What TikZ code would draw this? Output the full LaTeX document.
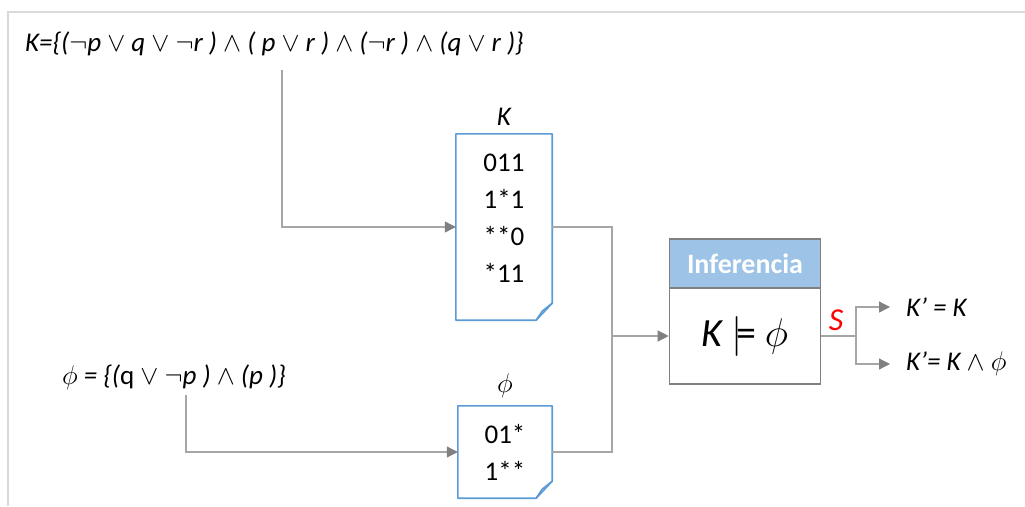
\RequirePackage{fix-cm}
\documentclass[tikz,border=0pt]{standalone}
\usepackage{amsmath}
\usepackage{amssymb}
\usepackage{fontspec}
\setmainfont{Carlito}
\usetikzlibrary{positioning,arrows.meta}
\definecolor{trait}{HTML}{A6A6A6}
\definecolor{pointe}{HTML}{808080}
\definecolor{bleu}{HTML}{5B9BD5}
\definecolor{entete}{HTML}{9DC3E6}
\tikzset{
  lien/.style={draw=trait,line width=1.2pt},
  fleche/.style={lien,-{Triangle[length=11pt,width=11pt,color=pointe]}},
  feuille/.style={draw=bleu,line width=1.6pt,line join=round},
  txt/.style={inner sep=0pt,font=\fontsize{27}{32}\selectfont\itshape},
  chiffres/.style={align=center,font=\fontsize{27}{37}\selectfont},
  sortie/.style={txt,anchor=west,inner xsep=16pt}
}
\begin{document}
\begin{tikzpicture}[x=1pt,y=-1pt]
\useasboundingbox (0,0) rectangle (1025,506);
% cadre
\draw[black!15,line width=1.5pt] (8,506) -- (8,12) -- (1025,12);
% formules
\node[txt,anchor=west] (fk) at (25,44) {K=\{($\neg$p $\vee$ q $\vee$ $\neg$r ) $\wedge$ ( p $\vee$ r ) $\wedge$ ($\neg$r ) $\wedge$ (q $\vee$ r )\}};
\node[txt,anchor=west] (fphi) at (62,377) {$\phi$ = \{(\upshape q $\vee$ $\neg$\itshape p ) $\wedge$ (p )\}};
% base K
\node[minimum width=96pt,minimum height=186pt,inner sep=0pt] (k) at (504,227) {};
\node[chiffres] (kt) at ([yshift=9pt]k.center) {011\\1*1\\**0\\*11};
\node[txt,above=8pt of k] (kl) {K};
\draw[feuille] (k.north west) -- (k.north east) -- ([yshift=17pt]k.south east) -- ([xshift=-16pt]k.south east) -- (k.south west) -- cycle;
\draw[feuille] ([xshift=-16pt]k.south east) -- ([xshift=-10pt,yshift=9pt]k.south east) -- ([yshift=17pt]k.south east);
% base phi
\node[chiffres,minimum width=94pt,minimum height=92pt,inner sep=0pt] (phi) at (505,452) {01*\\1**};
\node[txt,above=8pt of phi] (phil) {$\phi$};
\draw[feuille] (phi.north west) -- (phi.north east) -- ([yshift=17pt]phi.south east) -- ([xshift=-16pt]phi.south east) -- (phi.south west) -- cycle;
\draw[feuille] ([xshift=-16pt]phi.south east) -- ([xshift=-10pt,yshift=9pt]phi.south east) -- ([yshift=17pt]phi.south east);
% inference
\node[draw=pointe,line width=1.6pt,minimum width=151pt,minimum height=96pt,font=\fontsize{40}{44}\selectfont] (inf) at (745,336) {\itshape K\kern9pt$\models$\kern9pt$\phi$};
\node[draw=pointe,fill=entete,line width=1.6pt,minimum width=151pt,minimum height=49pt,text=white,font=\fontsize{28}{32}\selectfont\bfseries,above=-1.6pt of inf] (titre) {Inferencia};
\node[txt,text=red,font=\fontsize{32}{36}\selectfont\itshape] (s) at (836,320) {S};
\node[sortie] (o1) at (890,307) {K’ = K};
\node[sortie] (o2) at (890,364) {K’= K $\wedge$ $\phi$};
% liens
\coordinate (a) at (282,70);
\coordinate (b) at (186,395);
\coordinate (j) at (612,336);
\coordinate (c) at (856,336);
\draw[fleche] (a) |- (k.west);
\draw[fleche] (b) |- (phi.west);
\draw[lien] (k.east) -| (j) |- (phi.east);
\draw[fleche] (j) -- (inf.west);
\draw[lien] (inf.east) -- (c);
\draw[fleche] (c) |- (o1.west);
\draw[fleche] (c) |- (o2.west);
\end{tikzpicture}
\end{document}
